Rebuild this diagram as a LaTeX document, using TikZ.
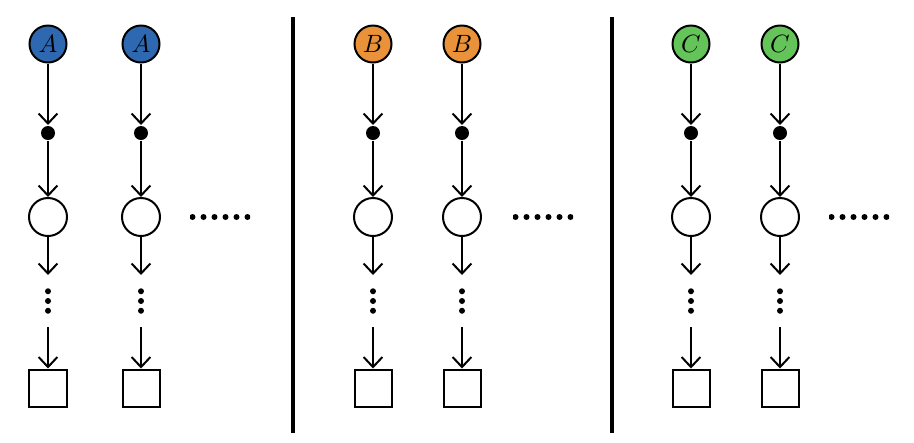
\documentclass[tikz,border=0pt]{standalone}
\usepackage{amstext,amsmath,amssymb}
\usepackage{xcolor}
\usepackage{tikz}
\usetikzlibrary{positioning,arrows.meta}
\definecolor{blueA}{RGB}{46,104,176}
\definecolor{orangeB}{RGB}{234,146,58}
\definecolor{greenC}{RGB}{100,196,90}

\tikzset{
  var/.style={circle,draw,line width=0.8pt,minimum size=14.8pt,inner sep=0pt},
  obs/.style={circle,fill=black,minimum size=5.6pt,inner sep=0pt},
  hid/.style={circle,draw,line width=0.8pt,minimum size=15.2pt,inner sep=0pt},
  res/.style={rectangle,draw,line width=0.8pt,minimum size=14.8pt,inner sep=0pt},
  vdotsnode/.style={minimum width=4pt,minimum height=20pt,inner sep=0pt,
    path picture={\foreach \k in {-1,0,1}
      \fill ([yshift=\k*3.9pt]path picture bounding box.center) circle (1.2pt);}},
  hdotsnode/.style={minimum width=24pt,minimum height=4pt,inner sep=0pt,
    path picture={\foreach \k in {-2.5,-1.5,...,2.5}
      \fill ([xshift=\k*4.4pt]path picture bounding box.center) circle (1.2pt);}},
  divider/.style={line width=1.8pt}
}

\begin{document}
\begin{tikzpicture}[x=0.4pt,y=-0.4pt,line width=0.8pt,>={Straight Barb[length=4pt,width=7.5pt]},
    every node/.style={on grid}]
  \useasboundingbox (0,0) rectangle (914,442);
  \foreach \n/\x/\l/\c in {1/48/A/blueA,2/141/A/blueA,3/373/B/orangeB,
                           4/462/B/orangeB,5/691/C/greenC,6/780/C/greenC} {
    \node[var,fill=\c] (t\n) at (\x,44) {$\l$};
    \node[obs,below=35.6pt of t\n] (o\n) {};
    \node[hid,below=33.6pt of o\n] (h\n) {};
    \node[vdotsnode,below=33.6pt of h\n] (v\n) {};
    \node[res,below=34.8pt of v\n] (s\n) {};
    \draw[->] (t\n) -- (o\n);
    \draw[->] (o\n) -- (h\n);
    \draw[->] (h\n) -- (v\n);
    \draw[->] (v\n) -- (s\n);
  }
  % ellipses between groups
  \node[hdotsnode,right=31.6pt of h2] (e1) {};
  \node[hdotsnode,right=32.4pt of h4] (e2) {};
  \node[hdotsnode,right=31.6pt of h6] (e3) {};
  % dividers
  \coordinate (d1a) at (293,17);
  \coordinate (d1b) at (293,433);
  \coordinate (d2a) at (612,17);
  \coordinate (d2b) at (612,433);
  \draw[divider] (d1a) -- (d1b);
  \draw[divider] (d2a) -- (d2b);
\end{tikzpicture}
\end{document}
